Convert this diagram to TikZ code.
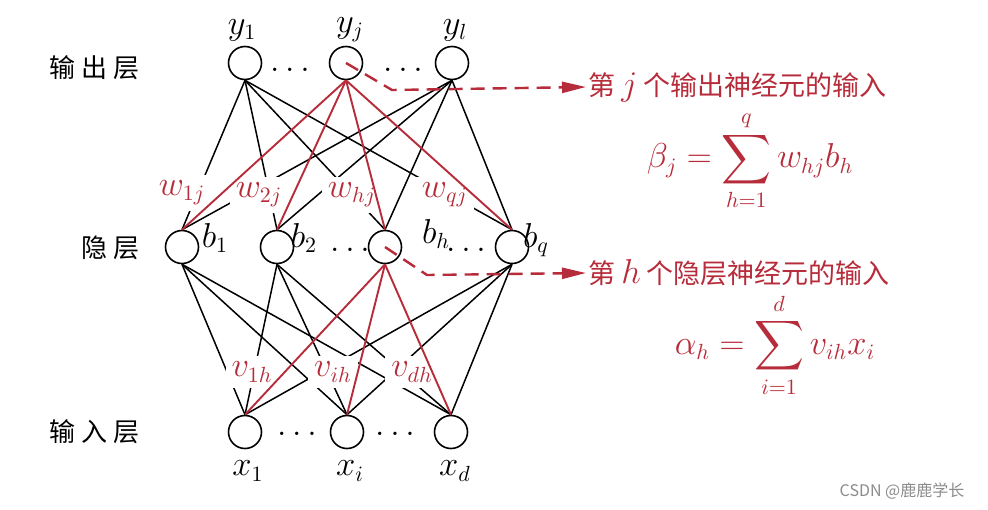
\documentclass[tikz,border=0pt]{standalone}
\usepackage{amsmath}
\usepackage{exscale}
\usepackage{fontspec}
\newfontfamily\cjk{Noto Sans CJK SC}
\usepackage{tikz}
\usetikzlibrary{arrows.meta,positioning,calc}
\definecolor{wred}{RGB}{183,44,58}
\newcommand{\Unit}[2]{%
  \node[draw, circle, minimum size=16.5pt, inner sep=0pt, line width=0.8pt, fill=white] (#1) at (#2) {};
}
\newcommand{\BigVar}[1]{{\fontsize{16}{19}\selectfont$#1$}}

\begin{document}
\begin{tikzpicture}[x=0.5pt, y=-0.5pt,
  every node/.style={font=\fontsize{16}{19}\selectfont},
  link/.style={line width=0.75pt},
  redlink/.style={wred, line width=0.95pt},
  wlabel/.style={text=wred, fill=white, inner sep=3pt},
  layer/.style={anchor=east, font=\cjk\fontsize{13}{15}\selectfont},
  note/.style={anchor=west, text=wred, inner sep=1pt, font=\cjk\fontsize{13.5}{16}\selectfont},
  guide/.style={wred, dash pattern=on 7pt off 4pt, line width=1.2pt, -{Triangle[length=12pt,width=5.5pt]}}]
  \fill[white] (0,0) rectangle (988,509);
  \Unit{y1}{245,63}
  \Unit{yj}{346,63}
  \Unit{yl}{452,63}
  \Unit{b1}{182,247}
  \Unit{b2}{277,247}
  \Unit{bh}{385,247}
  \Unit{bq}{512,247}
  \Unit{x1}{245,432}
  \Unit{xi}{347,432}
  \Unit{xd}{451,432}
  \node (ty1) at (242,30) {$y_1$};
  \node (tyj) at (350,30) {$y_j$};
  \node (tyl) at (455,30) {$y_l$};
  \node (tb1) at (215,238) {$b_1$};
  \node (tb2) at (304,238) {$b_2$};
  \node (tbh) at (436,234) {$b_h$};
  \node (tbq) at (536,240) {$b_q$};
  \node (tx1) at (248,471) {$x_1$};
  \node (txi) at (350,471) {$x_i$};
  \node (txd) at (455,471) {$x_d$};
  \node (dy1) at (290,70) {$\ldots$};
  \node (dy2) at (403,70) {$\ldots$};
  \node (db1) at (350,250) {$\ldots$};
  \node (db2) at (466,250) {$\ldots$};
  \node (dx1) at (297,434) {$\ldots$};
  \node (dx2) at (395,434) {$\ldots$};
  \node[layer] (lout) at (147,68) {输\hspace{3pt}出\hspace{3pt}层};
  \node[layer] (lhid) at (147,248) {隐\hspace{3pt}层};
  \node[layer] (lin) at (147,432) {输\hspace{3pt}入\hspace{3pt}层};
  \foreach \h in {b1,b2,bh,bq} {
    \draw[link] (y1.south) -- (\h.north);
    \draw[link] (yl.south) -- (\h.north);
  }
  \foreach \h in {b1,b2,bq}
    \foreach \i in {x1,xi,xd}
      \draw[link] (\h.south) -- (\i.north);
  \node[wlabel] (w1) at (182,193) {$w_{1j}$};
  \node[wlabel] (w2) at (259,195) {$w_{2j}$};
  \node[wlabel] (wh) at (352,195) {$w_{hj}$};
  \node[wlabel] (wq) at (445,195) {$w_{qj}$};
  \node[wlabel] (v1) at (252,372) {$v_{1h}$};
  \node[wlabel] (vi) at (333,372) {$v_{ih}$};
  \node[wlabel] (vd) at (412,372) {$v_{dh}$};
  \foreach \h in {b1,b2,bh,bq}
    \draw[redlink] (yj.south) -- (\h.north);
  \foreach \i in {x1,xi,xd}
    \draw[redlink] (bh.south) -- (\i.north);
  \node[note] (jnote) at (586,87) {第 \BigVar{j} 个输出神经元的输入};
  \node[note] (hnote) at (586,273) {第 \BigVar{h} 个隐层神经元的输入};
  \coordinate (jbend) at (392,90);
  \coordinate (hbend) at (427,275);
  \draw[guide] (yj.center) -- (jbend) -- (jnote.west);
  \draw[guide] (bh.center) -- (hbend) -- (hnote.west);
  \node[text=wred] (beta) at (750,161) {$\displaystyle \beta_j=\sum_{h=1}^{q} w_{hj}b_h$};
  \node[text=wred] (alpha) at (775,345) {$\displaystyle \alpha_h=\sum_{i=1}^{d} v_{ih}x_i$};
  \node[text=black!45, font=\cjk\fontsize{8}{10}\selectfont] (mark) at (902,491) {CSDN @鹿鹿学长};
\end{tikzpicture}
\end{document}
